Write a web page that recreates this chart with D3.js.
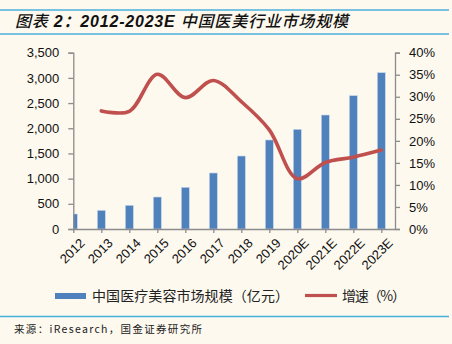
<!DOCTYPE html>
<html><head><meta charset="utf-8">
<script src="https://cdn.jsdelivr.net/npm/d3@7"></script>
<style>
html,body{margin:0;padding:0;background:#fdf9ef;}
svg{display:block;}
text{text-spacing-trim:space-all;}
</style></head>
<body>
<script>
const categories = ["2012","2013","2014","2015","2016","2017","2018","2019","2020E","2021E","2022E","2023E"];
const marketSize = [298, 371, 470, 635, 827, 1112, 1449, 1767, 1979, 2263, 2647, 3104];
const growth = [null, 26.8, 26.7, 35.1, 29.8, 33.7, 28.9, 22.5, 11.4, 15.1, 16.3, 17.9];
const leftTicks = [0,500,1000,1500,2000,2500,3000,3500];
const rightTicks = [0,5,10,15,20,25,30,35,40];
const titleParts = ["图表 ", "2：2012-2023E ", "中国医美行业市场规模"];
const legendBar = "中国医疗美容市场规模（亿元）";
const legendLine = "增速（%）";
const source = "来源：iResearch，国金证券研究所";

(function(){
const W = 452, H = 344;
const svg = d3.select("body").append("svg").attr("width", W).attr("height", H);
svg.append("rect").attr("width", W).attr("height", H).attr("fill", "#fdf9ef");

const cjk = "'Noto Sans CJK SC', sans-serif";
// title block
svg.append("line").attr("x1",0).attr("x2",449).attr("y1",10).attr("y2",10).attr("stroke","#4aaedc").attr("stroke-width",1.6);
svg.append("line").attr("x1",0).attr("x2",449).attr("y1",34).attr("y2",34).attr("stroke","#4aaedc").attr("stroke-width",1.6);
const tt = svg.append("text").attr("x",15).attr("y",27)
  .attr("font-family","'Liberation Sans', 'Noto Sans CJK SC', sans-serif")
  .attr("font-size",16).attr("font-style","italic").attr("fill","#111")
  .attr("textLength",333).attr("lengthAdjust","spacing");
tt.append("tspan").text(titleParts[0]).attr("font-weight","500");
tt.append("tspan").text(titleParts[1]).attr("font-weight","bold");
tt.append("tspan").text(titleParts[2]).attr("font-weight","500");

const pl = 73.3, pr = 395, pt = 52.7, pb = 229;
const x = d3.scalePoint().domain(categories).range([pl, pl + 28*11]);
const yL = d3.scaleLinear().domain([0,3500]).range([pb, pt]);
const yR = d3.scaleLinear().domain([0,40]).range([pb, pt]);
const bw = 8;

const font = "'Liberation Sans', Arial, sans-serif";
const axisColor = "#8c8c8c";

svg.append("clipPath").attr("id","plot").append("rect").attr("x",pl).attr("y",0).attr("width",pr-pl).attr("height",pb);
svg.append("g").attr("clip-path","url(#plot)").selectAll("rect").data(categories).join("rect")
  .attr("x", d => x(d) - bw/2).attr("width", bw)
  .attr("y", (d,i) => yL(marketSize[i])).attr("height", (d,i) => pb - yL(marketSize[i]))
  .attr("fill","#4f81bd").attr("stroke","#c9d7ea").attr("stroke-width",0.6);

const gL = svg.append("g").attr("transform",`translate(${pl},0)`)
  .call(d3.axisLeft(yL).tickValues(leftTicks).tickFormat(d3.format(",")).tickSizeOuter(0).tickSize(5).tickPadding(9));
const gR = svg.append("g").attr("transform",`translate(${pr},0)`)
  .call(d3.axisRight(yR).tickValues(rightTicks).tickFormat(d => d + "%").tickSizeOuter(0).tickSize(5).tickPadding(9));
const gB = svg.append("g").attr("transform",`translate(0,${pb})`)
  .call(d3.axisBottom(x).tickSizeOuter(0).tickSize(4).tickPadding(4));
gB.select(".domain").attr("d", `M${pl},0.5H${pr}`);
gB.selectAll(".tick text").attr("text-anchor","end").attr("transform","translate(3,6) rotate(-45)").attr("dy","0.35em").attr("dx","0");

[gL,gR,gB].forEach(g => {
  g.selectAll(".domain").attr("stroke",axisColor).attr("stroke-width",1.3);
  g.selectAll(".tick line").attr("stroke",axisColor).attr("stroke-width",1.3);
  g.selectAll(".tick text").attr("font-family",font).attr("font-size",13).attr("fill","#111");
});

const pts = categories.map((c,i) => [x(c), growth[i]]).filter(p => p[1] !== null);
const line = d3.line().x(p => p[0]).y(p => yR(p[1])).curve(d3.curveCatmullRom.alpha(0.5));
svg.append("path").datum(pts).attr("d", line).attr("fill","none")
  .attr("stroke","#c0504d").attr("stroke-width",3.6).attr("stroke-linecap","round").attr("stroke-linejoin","round");

// legend
svg.append("rect").attr("x",55).attr("y",293).attr("width",31).attr("height",6).attr("fill","#4f81bd");
svg.append("text").attr("x",92).attr("y",301).text(legendBar)
  .attr("font-family",cjk).attr("font-size",14).attr("fill","#222")
  .attr("textLength",197).attr("lengthAdjust","spacing");
svg.append("line").attr("x1",305).attr("x2",337).attr("y1",295.5).attr("y2",295.5).attr("stroke","#c0504d").attr("stroke-width",3.2);
svg.append("text").attr("x",342).attr("y",301).text(legendLine)
  .attr("font-family",cjk).attr("font-size",14).attr("fill","#222")
  .attr("textLength",64).attr("lengthAdjust","spacing");

svg.append("line").attr("x1",0).attr("x2",449).attr("y1",316.5).attr("y2",316.5).attr("stroke","#4aaedc").attr("stroke-width",1.6);
svg.append("text").attr("x",14).attr("y",333).text(source)
  .attr("font-family",cjk).attr("font-size",10.5).attr("fill","#222")
  .attr("textLength",188).attr("lengthAdjust","spacing");
})();
</script>
</body></html>
